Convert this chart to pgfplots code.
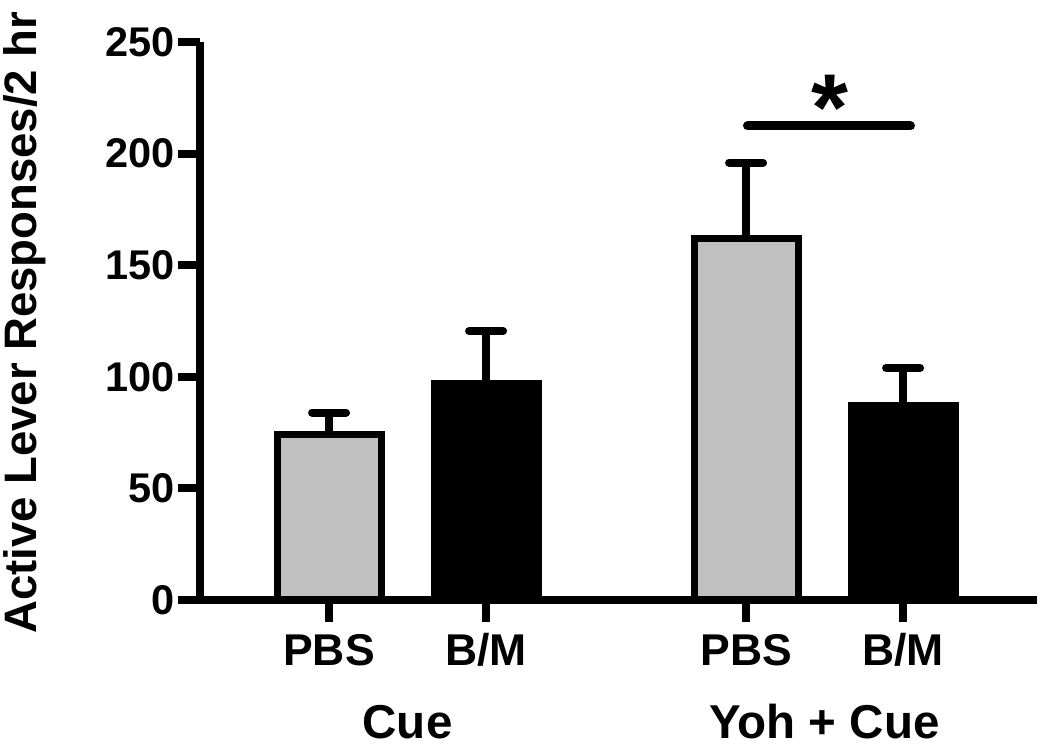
\documentclass[border=0pt]{standalone}
\usepackage{fontspec}
\setmainfont{Liberation Sans}
\usepackage{pgfplots}
\pgfplotsset{compat=1.18}
\definecolor{bargray}{RGB}{192,192,192}

\begin{document}
\begin{tikzpicture}
\useasboundingbox (-80pt,-61.6pt) rectangle (340pt,240pt);
\begin{axis}[
    at={(0,0)}, anchor=south west,
    scale only axis,
    width=334.8pt, height=223.2pt,
    xmin=0, xmax=5.331, ymin=0, ymax=250,
    axis x line*=bottom, axis y line*=left,
    axis line style={line width=3.2pt, -},
    xtick={0.822,1.822,3.478,4.478},
    xticklabels={PBS,B/M,PBS,B/M},
    ytick={0,50,...,250},
    tick align=outside,
    major tick length=8.8pt,
    tick style={line width=3.2pt, black},
    /pgf/number format/assume math mode=true,
    yticklabel style={font=\bfseries\fontsize{16.6}{19}\selectfont, inner xsep=1pt},
    xticklabel style={font=\bfseries\fontsize{17.8}{20}\selectfont, anchor=base, yshift=-17.6pt},
    ylabel={Active Lever Responses/2 hr},
    every axis y label/.style={at={(axis description cs:-0.209,0.497)}, rotate=90, anchor=center,
        font=\bfseries\fontsize{18.2}{21}\selectfont},
    bar width=0.662,
    clip=false,
]
% PBS groups (gray)
\addplot[ybar, bar shift=0pt, fill=bargray, draw=black, line width=2.8pt,
    error bars/.cd, y dir=plus, y explicit,
    error bar style={line width=3.2pt, black},
    error mark options={rotate=90, line width=3.2pt, mark size=6.8pt, black, line cap=round}]
    coordinates {(0.822,74) +- (0,10) (3.478,162) +- (0,34)};
% B/M groups (black)
\addplot[ybar, bar shift=0pt, fill=black, draw=black, line width=2.8pt,
    error bars/.cd, y dir=plus, y explicit,
    error bar style={line width=3.2pt, black},
    error mark options={rotate=90, line width=3.2pt, mark size=6.8pt, black, line cap=round}]
    coordinates {(1.822,97) +- (0,23.5) (4.478,87) +- (0,17)};
% significance bar
\addplot[black, line width=3.6pt, line cap=round, mark=none]
    coordinates {(3.487,212.4) (4.525,212.4)};
\addplot[draw=none, mark=none, nodes near coords, point meta=explicit symbolic,
    every node near coord/.style={anchor=north, inner sep=0pt, yshift=0pt,
        font=\bfseries\fontsize{38}{42}\selectfont}]
    coordinates {(4.013,235.2) [*]};
\node[anchor=base, yshift=-55.6pt, font=\bfseries\fontsize{19}{22}\selectfont] at (axis cs:1.322,0) {Cue};
\node[anchor=base, yshift=-55.6pt, font=\bfseries\fontsize{19}{22}\selectfont] at (axis cs:3.978,0) {Yoh + Cue};
\end{axis}
\end{tikzpicture}
\end{document}
